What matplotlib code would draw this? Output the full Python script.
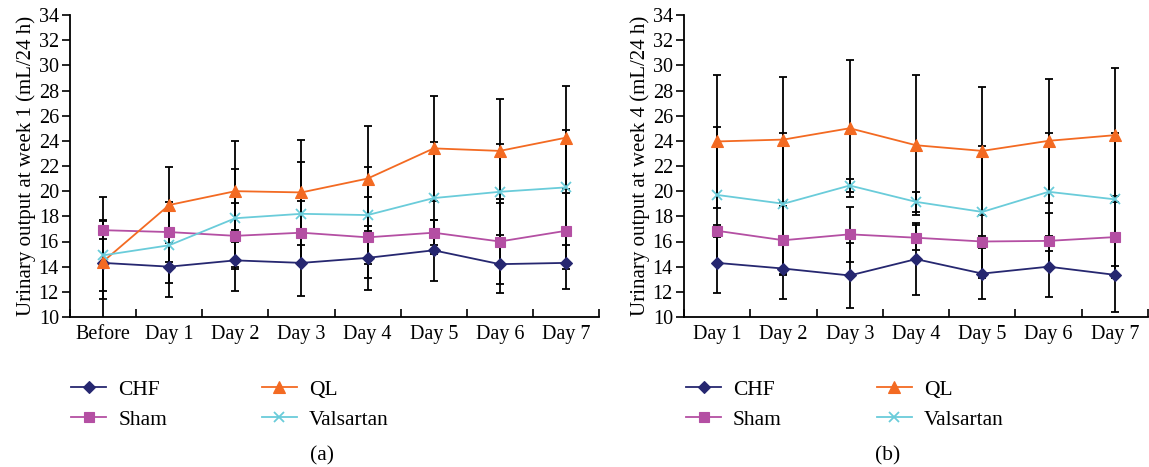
import matplotlib
matplotlib.use("Agg")
import matplotlib.pyplot as plt
import numpy as np

plt.rcParams['font.family'] = ['Liberation Serif', 'DejaVu Serif']

# ---- donnees ----
labels_a = ["Before", "Day 1", "Day 2", "Day 3", "Day 4", "Day 5", "Day 6", "Day 7"]
labels_b = ["Day 1", "Day 2", "Day 3", "Day 4", "Day 5", "Day 6", "Day 7"]

# semaine 1
chf_a = [14.3, 14.0, 14.5, 14.3, 14.7, 15.3, 14.2, 14.3]
chf_a_err = [2.9, 2.4, 2.4, 2.65, 2.55, 2.4, 2.3, 2.1]
ql_a = [14.4, 18.9, 20.0, 19.9, 21.0, 23.4, 23.2, 24.25]
ql_a_err = [5.1, 3.0, 4.0, 4.2, 4.15, 4.2, 4.15, 4.1]
sham_a = [16.9, 16.75, 16.45, 16.7, 16.33, 16.7, 16.0, 16.85]
sham_a_err = [0.7, 2.4, 2.6, 2.5, 3.2, 1.0, 3.4, 3.0]
vals_a = [14.9, 15.7, 17.85, 18.2, 18.1, 19.45, 19.95, 20.3]
vals_a_err = [2.8, 3.0, 3.9, 4.1, 3.85, 4.45, 3.8, 4.55]

# semaine 4
chf_b = [14.3, 13.85, 13.3, 14.6, 13.45, 14.0, 13.35]
chf_b_err = [2.4, 2.45, 2.6, 2.85, 2.05, 2.45, 2.95]
ql_b = [23.95, 24.1, 25.0, 23.65, 23.2, 24.0, 24.45]
ql_b_err = [5.25, 4.95, 5.45, 5.55, 5.1, 4.95, 5.3]
sham_b = [16.85, 16.1, 16.57, 16.3, 16.0, 16.05, 16.35]
sham_b_err = [0.5, 2.75, 2.2, 1.0, 0.4, 2.2, 3.25]
vals_b = [19.7, 19.0, 20.45, 19.15, 18.35, 19.95, 19.35]
vals_b_err = [5.4, 5.6, 0.5, 0.8, 5.25, 4.7, 5.3]

series_names = ["CHF", "Sham", "QL", "Valsartan"]
couleurs = {"CHF": "#262770", "Sham": "#B44FA3", "QL": "#F36A22", "Valsartan": "#6ACCDA"}
marqueurs = {"CHF": ("D", 6.5), "Sham": ("s", 7.5), "QL": ("^", 8.5), "Valsartan": ("x", 6.5)}

taille = 14.5


def trace_panneau(ax, labels, donnees, ylabel):
    x = np.arange(len(labels))
    for nom in series_names:
        y, err = donnees[nom]
        ax.errorbar(x, y, yerr=err, fmt="none", ecolor="black", elinewidth=1.3,
                    capsize=3.2, capthick=1.3, zorder=2)
    handles = []
    for nom in series_names:
        y, err = donnees[nom]
        m, ms = marqueurs[nom]
        h, = ax.plot(x, y, color=couleurs[nom], lw=1.3, marker=m, markersize=ms,
                     markeredgewidth=1.3 if m == "x" else 0.8, label=nom, zorder=3)
        handles.append(h)
    ax.set_xlim(-0.5, len(labels) - 0.5)
    ax.set_ylim(10, 34)
    ax.set_yticks(np.arange(10, 35, 2))
    ax.set_xticks(np.arange(-0.5, len(labels), 1.0))
    ax.set_xticklabels([])
    ax.set_xticks(x, minor=True)
    ax.set_xticklabels(labels, minor=True)
    ax.tick_params(axis="x", which="major", direction="in", length=6, width=1.2)
    ax.tick_params(axis="x", which="minor", length=0, pad=6, labelsize=taille)
    ax.tick_params(axis="y", direction="out", length=6, width=1.2, labelsize=taille, pad=2)
    for s in ["top", "right"]:
        ax.spines[s].set_visible(False)
    for s in ["left", "bottom"]:
        ax.spines[s].set_linewidth(1.3)
    ax.set_ylabel(ylabel, fontsize=15, labelpad=2)
    return handles


fig = plt.figure(figsize=(11.49, 4.67), dpi=100)
ax1 = fig.add_axes([70 / 1149, 150 / 467, 529 / 1149, 302 / 467])
ax2 = fig.add_axes([684 / 1149, 150 / 467, 464 / 1149, 302 / 467])

donnees_a = {"CHF": (chf_a, chf_a_err), "Sham": (sham_a, sham_a_err),
             "QL": (ql_a, ql_a_err), "Valsartan": (vals_a, vals_a_err)}
donnees_b = {"CHF": (chf_b, chf_b_err), "Sham": (sham_b, sham_b_err),
             "QL": (ql_b, ql_b_err), "Valsartan": (vals_b, vals_b_err)}

h1 = trace_panneau(ax1, labels_a, donnees_a, "Urinary output at week 1 (mL/24 h)")
h2 = trace_panneau(ax2, labels_b, donnees_b, "Urinary output at week 4 (mL/24 h)")

for hs, x0 in [(h1, 60), (h2, 675)]:
    fig.legend(handles=hs, labels=series_names, ncol=2, loc="upper left",
               bbox_to_anchor=(x0 / 1149, 1 - 369 / 467), frameon=False,
               fontsize=15.5, handlelength=1.65, handletextpad=0.55,
               columnspacing=4.4, labelspacing=0.45, borderpad=0)

fig.text(322 / 1149, 1 - 456 / 467, "(a)", ha="center", va="center", fontsize=15.5)
fig.text(888 / 1149, 1 - 456 / 467, "(b)", ha="center", va="center", fontsize=15.5)

fig.savefig("out.png", dpi=100)
